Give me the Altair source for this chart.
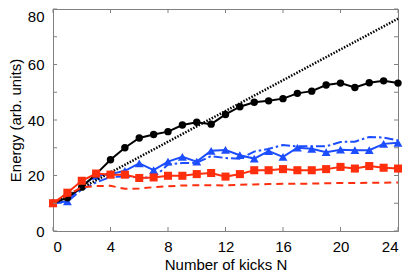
import altair as alt
import pandas as pd

N = list(range(25))
black = [10, 12, 15.8, 20.5, 25.7, 30, 33.5, 34.8, 35.8, 38.2, 39.2, 38.5, 42, 44.8, 46.4, 46.9, 47.7, 49.6, 50.4, 52.6, 53.3, 51.7, 53.4, 54.1, 53.3]
red = [10, 13.8, 18.1, 20.7, 20.3, 20.3, 19.1, 19.3, 19.9, 19.9, 20.5, 20.9, 19.6, 20.5, 21.9, 21.9, 22.3, 21.9, 21.9, 22.3, 23.1, 22.5, 23.4, 22.8, 22.5]
red_dash = [10, 12.8, 15.8, 16.2, 16.3, 15.2, 15.3, 15.8, 16.1, 16.4, 16.5, 16.5, 16.4, 16.7, 16.8, 16.9, 17, 17, 17.1, 17.2, 17.3, 17.3, 17.4, 17.4, 17.5]
blue = [10, 10.7, 16.4, 19.9, 20.5, 21.7, 24.4, 21.9, 25, 26.7, 25, 28.9, 29.2, 27.3, 26.1, 28.8, 26.7, 30, 29.6, 28.4, 29.3, 29.1, 29.1, 31.4, 31.8]
blue_dd = [10, 10.5, 15, 17.5, 19.5, 19.6, 19.4, 19.1, 24, 24.5, 24.6, 27, 26.3, 26, 28.6, 29.6, 31, 30.5, 30.5, 30.5, 32.1, 32.2, 33.9, 33.7, 32.6]
dotted_N = [0, 24]
dotted_E = [10, 76.5]

x_ticks = [0, 4, 8, 12, 16, 20, 24]
y_ticks = [0, 10, 20, 30, 40, 50, 60, 70, 80]
y_labels = [0, 20, 40, 60, 80]

RED = "#ff2e0c"
BLUE = "#1c4dff"
GRAY = "#808080"
W, H = 345, 222
FS = 15

xs = alt.Scale(domain=[0, 24], nice=False)
ys = alt.Scale(domain=[0, 80], nice=False)

def df(vals):
    return pd.DataFrame({"N": N, "E": vals})

xenc = alt.X("N:Q", scale=xs, axis=alt.Axis(values=x_ticks, title="Number of kicks N", ticks=False, domain=False, grid=False, labelPadding=8, titlePadding=3))
yenc = alt.Y("E:Q", scale=ys, axis=alt.Axis(
    values=y_labels, title="Energy (arb. units)", ticks=False, domain=False, grid=False,
    labelPadding=9, titlePadding=4,
    labelOffset={"condition": {"test": "datum.value == 80", "value": 7}, "value": 0},
))

base_x = alt.X("N:Q", scale=xs)
base_y = alt.Y("E:Q", scale=ys)

l_bdd = alt.Chart(df(blue_dd)).mark_line(color=BLUE, strokeWidth=2, strokeDash=[9, 3, 2.5, 3]).encode(x=xenc, y=yenc)
l_b = alt.Chart(df(blue)).mark_line(color=BLUE, strokeWidth=2, point=alt.OverlayMarkDef(shape="triangle-up", size=80, filled=True, color=BLUE)).encode(x=base_x, y=base_y)
l_dot = alt.Chart(pd.DataFrame({"N": dotted_N, "E": dotted_E})).mark_line(color="black", strokeWidth=2.5, strokeDash=[1.5, 1.5]).encode(x=base_x, y=base_y)
l_k = alt.Chart(df(black)).mark_line(color="black", strokeWidth=2, point=alt.OverlayMarkDef(shape="circle", size=55, filled=True, color="black")).encode(x=base_x, y=base_y)
l_rd = alt.Chart(df(red_dash)).mark_line(color=RED, strokeWidth=2, strokeDash=[7, 5]).encode(x=base_x, y=base_y)
l_r = alt.Chart(df(red)).mark_line(color=RED, strokeWidth=2, point=alt.OverlayMarkDef(shape="square", size=65, filled=True, color=RED)).encode(x=base_x, y=base_y)

xt = pd.DataFrame({"N": x_ticks})
yt = pd.DataFrame({"E": y_ticks})
tb = alt.Chart(xt).mark_rule(color=GRAY, strokeWidth=1).encode(x=base_x, y=alt.value(H), y2=alt.value(H - 4))
tt = alt.Chart(xt).mark_rule(color=GRAY, strokeWidth=1).encode(x=base_x, y=alt.value(0), y2=alt.value(4))
tl = alt.Chart(yt).mark_rule(color=GRAY, strokeWidth=1).encode(y=base_y, x=alt.value(0), x2=alt.value(4))
tr = alt.Chart(yt).mark_rule(color=GRAY, strokeWidth=1).encode(y=base_y, x=alt.value(W), x2=alt.value(W - 4))

chart = alt.layer(l_bdd, l_b, l_dot, l_k, l_rd, l_r, tb, tt, tl, tr).properties(
    width=W, height=H,
    autosize=alt.AutoSizeParams(type="none"),
    padding={"left": 45, "top": 1, "right": 9, "bottom": 46},
).configure_view(stroke=GRAY, strokeWidth=1).configure_axis(
    labelFont="Liberation Sans", titleFont="Liberation Sans", labelFontSize=FS, titleFontSize=FS,
    labelColor="black", titleColor="black", titleFontWeight="normal",
)

chart.save("out.html", embed_options={"renderer": "svg", "actions": False})
